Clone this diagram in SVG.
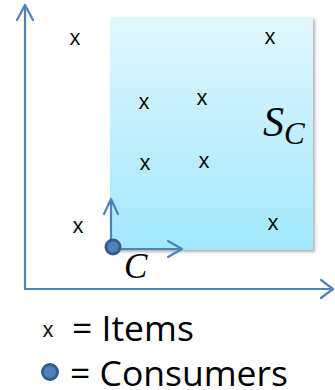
<svg xmlns="http://www.w3.org/2000/svg" width="335" height="390" viewBox="0 0 335 390">
<defs>
<linearGradient id="g" x1="0" y1="0" x2="0" y2="1">
<stop offset="0" stop-color="#E1F7FD"/>
<stop offset="1" stop-color="#A2E7FC"/>
</linearGradient>
<filter id="sh" x="-10%" y="-10%" width="120%" height="120%">
<feDropShadow dx="2" dy="2" stdDeviation="1.5" flood-color="#000" flood-opacity="0.3"/>
</filter>
</defs>
<style>
.ax{fill:none;stroke:#4F81BD;stroke-width:2.2;stroke-linecap:round;stroke-linejoin:round}
.it{font-family:"Open Sans","Liberation Sans",sans-serif;font-size:21px;fill:#000;text-anchor:middle}
.math{font-family:"Liberation Serif",serif;font-style:italic;fill:#000}
.lg{font-family:"Open Sans","Liberation Sans",sans-serif;font-size:35.5px;fill:#000}
.cons{fill:#4F81BD;stroke:#385D8A;stroke-width:3}
</style>
<g id="region">
<rect x="110" y="17" width="203" height="233" fill="url(#g)" filter="url(#sh)"/>
<text class="math" x="263" y="136" font-size="42">S<tspan font-size="31" dy="8">C</tspan></text>
</g>
<g id="connectors">
<path class="ax" d="M25,289 V5 M17,20 L25,5 L33,20"/>
<path class="ax" d="M25,289 H333 M321,280 L333,289 L321,298"/>
<path class="ax" d="M111,248 V199 M104,214 L111,199 L118,214"/>
<path class="ax" d="M113,249 H182 M168,241 L182,249 L168,257"/>
</g>
<g id="items">
<text class="it" x="75" y="45">x</text>
<text class="it" x="270" y="44">x</text>
<text class="it" x="144" y="109">x</text>
<text class="it" x="202" y="105">x</text>
<text class="it" x="145" y="170">x</text>
<text class="it" x="204" y="168">x</text>
<text class="it" x="78" y="233">x</text>
<text class="it" x="273" y="230">x</text>
</g>
<g id="consumer">
<circle class="cons" cx="113" cy="247" r="7"/>
<text class="math" x="124" y="278" font-size="35">C</text>
</g>
<g id="legend">
<text class="it" x="48" y="337">x</text>
<text class="lg" x="72" y="341">= Items</text>
<circle class="cons" cx="50" cy="372" r="7.5"/>
<text class="lg" x="70" y="386">= Consumers</text>
</g>
</svg>
